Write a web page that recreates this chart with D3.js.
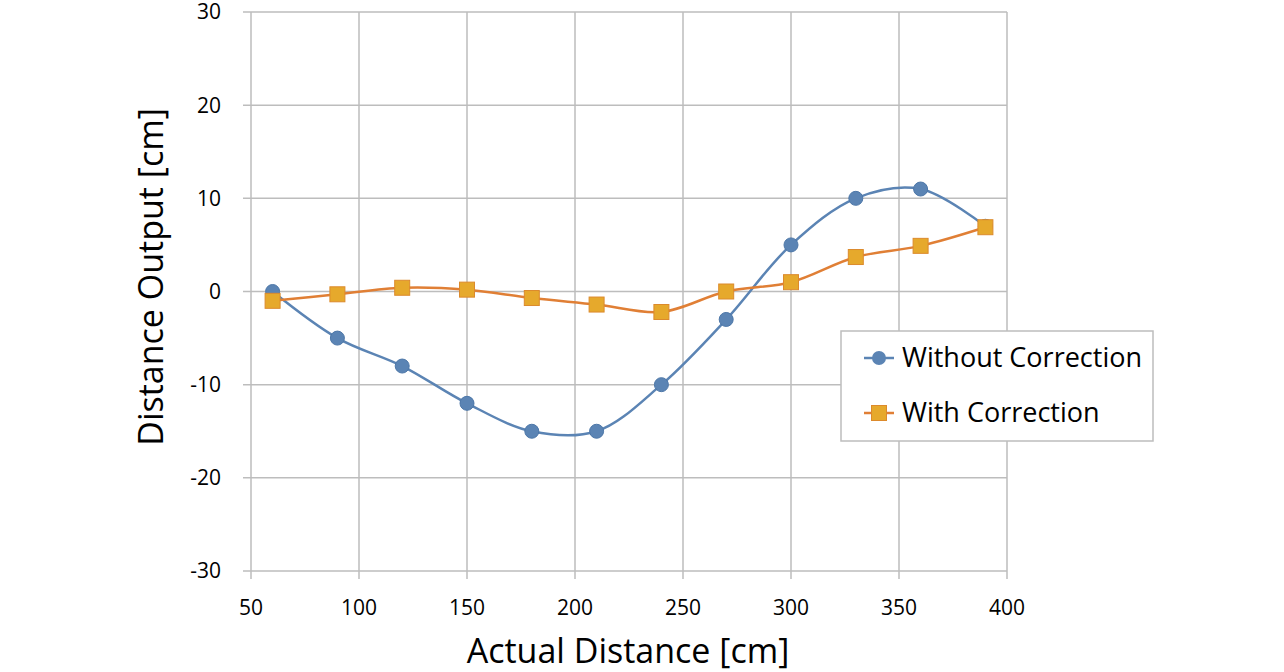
<!DOCTYPE html>
<html><head><meta charset="utf-8">
<script src="https://cdn.jsdelivr.net/npm/d3@7"></script>
<style>body{margin:0;background:#fff;}svg{display:block;font-family:"Open Sans","Noto Sans",sans-serif;}</style>
</head><body>
<svg id="c" width="1284" height="672"></svg>
<script>
const xValues = [60, 90, 120, 150, 180, 210, 240, 270, 300, 330, 360, 390];
const withoutCorrection = [0, -5, -8, -12, -15, -15, -10, -3, 5, 10, 11, 7];
const withCorrection = [-1, -0.3, 0.4, 0.2, -0.7, -1.4, -2.2, 0, 1, 3.7, 4.9, 6.9];
const xTicks = [50, 100, 150, 200, 250, 300, 350, 400];
const yTicks = [-30, -20, -10, 0, 10, 20, 30];
const seriesNames = ["Without Correction", "With Correction"];

const svg = d3.select("#c");
const x = d3.scaleLinear().domain([50, 400]).range([251, 1007]);
const y = d3.scaleLinear().domain([-30, 30]).range([571, 12]);

// gridlines
svg.append("g").selectAll("line").data(yTicks).join("line")
  .attr("x1", 243).attr("x2", 1007).attr("y1", d => y(d)).attr("y2", d => y(d))
  .attr("stroke", "#bdbdbd").attr("stroke-width", 1.5);
svg.append("g").selectAll("line").data(xTicks).join("line")
  .attr("x1", d => x(d)).attr("x2", d => x(d)).attr("y1", 12).attr("y2", 579)
  .attr("stroke", "#bdbdbd").attr("stroke-width", 1.5);

// tick labels
svg.append("g").selectAll("text").data(yTicks).join("text")
  .attr("x", 221).attr("y", d => y(d)).attr("dy", "0.35em").attr("text-anchor", "end")
  .attr("font-size", 21).attr("fill", "#000").text(d => d);
svg.append("g").selectAll("text").data(xTicks).join("text")
  .attr("x", d => x(d)).attr("y", 615).attr("text-anchor", "middle")
  .attr("font-size", 21).attr("fill", "#000").text(d => d);

// axis titles
svg.append("text").attr("x", 628).attr("y", 663).attr("text-anchor", "middle")
  .attr("font-size", 34).attr("fill", "#000").text("Actual Distance [cm]");
svg.append("text").attr("transform", "translate(163,277) rotate(-90)").attr("text-anchor", "middle")
  .attr("font-size", 34).attr("fill", "#000").text("Distance Output [cm]");

const line = d3.line().x((d, i) => x(xValues[i])).y(d => y(d)).curve(d3.curveCatmullRom.alpha(0.5));

const blue = "#5b84b4", orangeLine = "#e07f35", orangeFill = "#e6a92c";

svg.append("path").datum(withoutCorrection).attr("d", line)
  .attr("fill", "none").attr("stroke", blue).attr("stroke-width", 2.5);
svg.append("path").datum(withCorrection).attr("d", line)
  .attr("fill", "none").attr("stroke", orangeLine).attr("stroke-width", 2.5);

svg.append("g").selectAll("circle").data(withoutCorrection).join("circle")
  .attr("cx", (d, i) => x(xValues[i])).attr("cy", d => y(d)).attr("r", 7)
  .attr("fill", blue).attr("stroke", "#4d77a8").attr("stroke-width", 1);
svg.append("g").selectAll("rect").data(withCorrection).join("rect")
  .attr("x", (d, i) => x(xValues[i]) - 7.5).attr("y", d => y(d) - 7.5)
  .attr("width", 15).attr("height", 15)
  .attr("fill", orangeFill).attr("stroke", "#dc8a2c").attr("stroke-width", 1);

// legend
const lg = svg.append("g");
lg.append("rect").attr("x", 841).attr("y", 331).attr("width", 312).attr("height", 110)
  .attr("fill", "#fff").attr("stroke", "#bdbdbd").attr("stroke-width", 1.5);
const items = [
  {name: seriesNames[0], color: blue, shape: "circle", yy: 358},
  {name: seriesNames[1], color: orangeLine, shape: "rect", yy: 413}
];
items.forEach(it => {
  lg.append("line").attr("x1", 864).attr("x2", 894).attr("y1", it.yy).attr("y2", it.yy)
    .attr("stroke", it.color).attr("stroke-width", 2.5);
  if (it.shape === "circle") {
    lg.append("circle").attr("cx", 879).attr("cy", it.yy).attr("r", 7).attr("fill", blue);
  } else {
    lg.append("rect").attr("x", 871.5).attr("y", it.yy - 7.5).attr("width", 15).attr("height", 15)
      .attr("fill", orangeFill).attr("stroke", "#dc8a2c");
  }
  lg.append("text").attr("x", 902).attr("y", it.yy).attr("dy", "0.35em")
    .attr("font-size", 27).attr("fill", "#000").text(it.name);
});
</script>
</body></html>
